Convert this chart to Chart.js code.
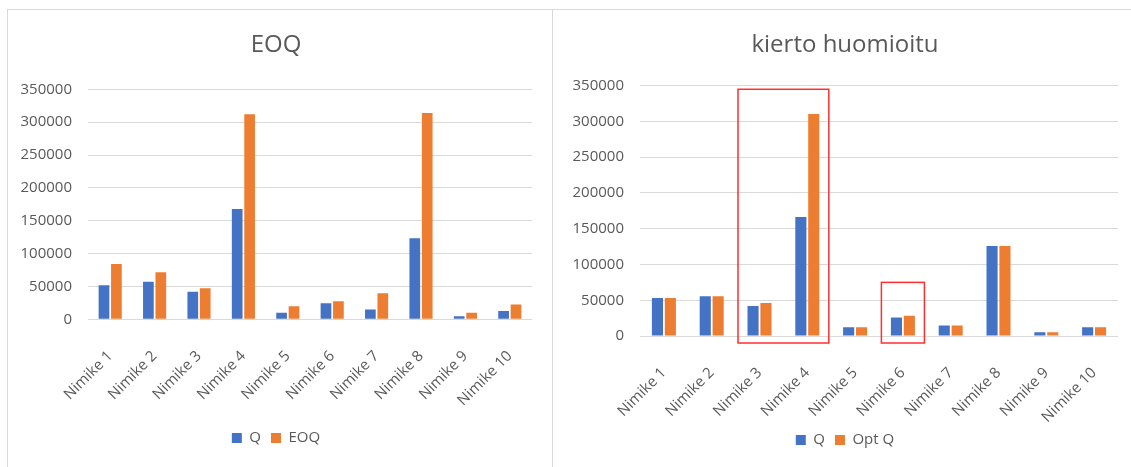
<!DOCTYPE html>
<html>
<head>
<meta charset="utf-8">
<title>EOQ / kierto huomioitu</title>
<script src="https://cdn.jsdelivr.net/npm/chart.js@4.4.0/dist/chart.umd.min.js"></script>
<style>
  html, body { margin: 0; padding: 0; background: #fff; overflow: hidden; }
  .panel { position: absolute; top: 9px; border: 1px solid #d9d9d9; background: #fff; }
  #leftPanel { left: 7px; width: 544px; height: 470px; }
  #rightPanel { left: 553px; width: 600px; height: 470px; border-left: none; border-right: none; }
  canvas { display: block; }
</style>
</head>
<body>
<div class="panel" id="leftPanel"><canvas id="eoqChart" width="544" height="457"></canvas></div>
<div class="panel" id="rightPanel"><canvas id="turnChart" width="588" height="457"></canvas></div>

<script>
// Nimikkeet
const categories = ['Nimike 1', 'Nimike 2', 'Nimike 3', 'Nimike 4', 'Nimike 5',
                    'Nimike 6', 'Nimike 7', 'Nimike 8', 'Nimike 9', 'Nimike 10'];

// EOQ-kaavio
const eoqQ      = [52000, 57000, 42000, 168000, 10000, 24500, 15000, 123500, 4800, 12500];
const eoqValues = [84000, 71500, 47300, 312000, 19800, 27400, 39600, 314000, 9800, 22500];

// kierto huomioitu -kaavio
const turnQ = [53000, 55500, 42000, 166500, 12300, 26000, 14600, 126000, 5400, 12300];
const optQ  = [53000, 55500, 46000, 310300, 12300, 28400, 14600, 126000, 5400, 12300];

// y-akseli
const yMax = 350000;
const yStep = 50000;

// punaiset korostuslaatikot (alku- ja loppunimike, yläreuna arvona)
const highlightFrom = ['Nimike 3', 'Nimike 6'];
const highlightTo   = ['Nimike 4', 'Nimike 6'];
const highlightTop  = [345000, 75000];

const BLUE = '#4472c4';
const ORANGE = '#ed7d31';
const TEXT = '#595959';
const GRID = '#d9d9d9';

Chart.defaults.font.family = "'Open Sans', 'DejaVu Sans', sans-serif";
Chart.defaults.color = TEXT;

const highlightBoxes = {
  id: 'highlightBoxes',
  afterDatasetsDraw(chart) {
    const { ctx, scales: { x, y } } = chart;
    const half = (x.getPixelForValue(1) - x.getPixelForValue(0)) * 0.45;
    ctx.save();
    ctx.strokeStyle = '#ff2f2f';
    ctx.lineWidth = 1.5;
    highlightFrom.forEach((name, i) => {
      const left = x.getPixelForValue(categories.indexOf(name)) - half;
      const right = x.getPixelForValue(categories.indexOf(highlightTo[i])) + half;
      const top = y.getPixelForValue(highlightTop[i]);
      const bottom = y.getPixelForValue(0) + 7;
      ctx.strokeRect(left, top, right - left, bottom - top);
    });
    ctx.restore();
  }
};

function buildChart(id, cfg) {
  return new Chart(document.getElementById(id), {
    type: 'bar',
    data: {
      labels: categories,
      datasets: [
        { label: 'Q', data: cfg.first, backgroundColor: BLUE },
        { label: cfg.secondLabel, data: cfg.second, backgroundColor: ORANGE }
      ]
    },
    options: {
      responsive: false,
      animation: false,
      datasets: { bar: { categoryPercentage: cfg.catPct, barPercentage: 0.86 } },
      layout: { padding: { top: 0, left: cfg.left, right: cfg.right, bottom: cfg.bottom } },
      plugins: {
        title: {
          display: true,
          text: cfg.title,
          color: TEXT,
          font: { size: 24, weight: 'normal' },
          padding: { top: 20.6, bottom: cfg.titleGap }
        },
        legend: {
          position: 'bottom',
          labels: { boxWidth: 10, boxHeight: 10, padding: 10, color: TEXT, font: { size: 15 } }
        },
        tooltip: { enabled: false }
      },
      scales: {
        x: {
          grid: { display: false },
          border: { display: false },
          ticks: { autoSkip: false, maxRotation: 45, minRotation: 45, padding: 20, font: { size: 15 } },
          afterFit: s => { s.height = cfg.xHeight; }
        },
        y: {
          min: 0,
          max: yMax,
          grid: { color: GRID, lineWidth: 1, drawTicks: false },
          border: { display: false },
          ticks: { stepSize: yStep, padding: 16, font: { size: 15 }, callback: v => String(v) },
          afterFit: s => { s.width = cfg.yWidth; }
        }
      }
    },
    plugins: cfg.plugins || []
  });
}

buildChart('eoqChart', {
  title: 'EOQ',
  first: eoqQ,
  second: eoqValues,
  secondLabel: 'EOQ',
  catPct: 0.56,
  left: 12,
  right: 20,
  yWidth: 68,
  titleGap: 29.9,
  xHeight: 101.2,
  bottom: 11.5
});

buildChart('turnChart', {
  title: 'kierto huomioitu',
  first: turnQ,
  second: optQ,
  secondLabel: 'Opt Q',
  catPct: 0.54,
  left: 19,
  right: 23,
  yWidth: 68,
  titleGap: 26.3,
  xHeight: 86.5,
  bottom: 9.5,
  plugins: [highlightBoxes]
});
</script>
</body>
</html>
